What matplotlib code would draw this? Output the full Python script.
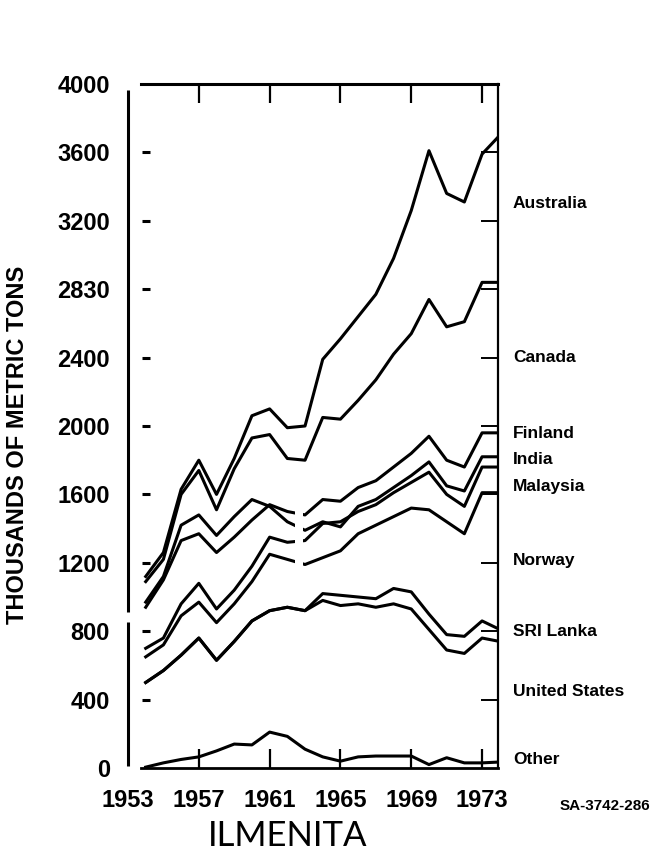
import numpy as np
import matplotlib
matplotlib.use("Agg")
from matplotlib import pyplot as plt

plt.rcParams['font.family'] = ['Liberation Sans', 'DejaVu Sans']
plt.rcParams['font.weight'] = 'bold'

YEARS = list(range(1954, 1975))

# upper edge of each band (stacked totals), thousands of metric tons
AUSTRALIA = [1120, 1260, 1630, 1800, 1600, 1810, 2060, 2100, 1990, 2000, 2390,
             2510, 2640, 2770, 2980, 3260, 3610, 3360, 3310, 3590, 3700]
CANADA = [1090, 1220, 1600, 1740, 1510, 1750, 1930, 1950, 1810, 1800, 2050,
          2040, 2150, 2270, 2420, 2540, 2740, 2580, 2610, 2840, 2840]
FINLAND = [940, 1100, 1330, 1370, 1260, 1350, 1450, 1540, 1500, 1480, 1570,
           1560, 1640, 1680, 1760, 1840, 1940, 1800, 1760, 1960, 1960]
INDIA = [970, 1120, 1420, 1480, 1360, 1470, 1570, 1530, 1440, 1390, 1440,
         1410, 1530, 1570, 1640, 1710, 1790, 1650, 1620, 1820, 1820]
MALAYSIA = [700, 760, 960, 1080, 930, 1040, 1180, 1350, 1320, 1330, 1430,
            1440, 1500, 1540, 1610, 1670, 1730, 1600, 1530, 1760, 1760]
NORWAY = [650, 720, 890, 970, 850, 960, 1090, 1250, 1220, 1190, 1230,
          1270, 1370, 1420, 1470, 1520, 1510, 1440, 1370, 1610, 1610]
SRI_LANKA = [500, 570, 660, 760, 630, 740, 860, 920, 940, 920, 1020,
             1010, 1000, 990, 1050, 1030, 900, 780, 770, 860, 810]
UNITED_STATES = [500, 570, 660, 760, 630, 740, 860, 920, 940, 920, 980,
                 950, 960, 940, 960, 930, 810, 690, 670, 760, 740]
OTHER = [5, 30, 50, 65, 100, 140, 135, 210, 185, 110, 65,
         40, 65, 70, 70, 70, 20, 60, 30, 30, 35]

SERIES = [AUSTRALIA, CANADA, FINLAND, INDIA, MALAYSIA, NORWAY,
          SRI_LANKA, UNITED_STATES, OTHER]
COUNTRIES = ['Australia', 'Canada', 'Finland', 'India', 'Malaysia', 'Norway',
             'SRI Lanka', 'United States', 'Other']

XTICKS = [1953, 1957, 1961, 1965, 1969, 1973]
YTICKS = [0, 400, 800, 1200, 1600, 2000, 2400, 2800, 3200, 3600, 4000]
YTICK_LABELS = ['0', '400', '800', '1200', '1600', '2000', '2400', '2830',
                '3200', '3600', '4000']

# layout (pixels of the 656x864 picture)
W, H = 656, 864
LABEL_X = 513
LABEL_Y = [203, 357, 433, 460, 486, 560, 632, 692, 760]

fig = plt.figure(figsize=(W / 100, H / 100), dpi=100)
ax = fig.add_axes([128 / W, (H - 768) / H, 370 / W, 684 / H])

for vals in SERIES:
    ax.plot(YEARS, vals, color='k', lw=2.2, solid_joinstyle='round', zorder=2)

# little break in the middle lines around 1962
ax.axvspan(1962.46, 1962.86, ymin=0.28, ymax=0.40, color='white', lw=0, zorder=3)

ax.set_xlim(1953.06, 1973.9)
ax.set_ylim(0, 4000)

ax.spines['top'].set_bounds(1953.73, 1973.9)
ax.spines['bottom'].set_bounds(1953.73, 1973.9)
ax.spines['top'].set_linewidth(2.2)
ax.spines['bottom'].set_linewidth(2.0)
ax.spines['right'].set_linewidth(1.6)
ax.spines['left'].set_visible(False)

# broken left axis
yt = ax.get_yaxis_transform()
ax.plot([0, 0], [912, 3965], color='k', lw=2.2, transform=yt, clip_on=False,
        solid_capstyle='butt')
ax.plot([0, 0], [10, 854], color='k', lw=2.2, transform=yt, clip_on=False,
        solid_capstyle='butt')
ax.plot(np.full(len(YTICKS) - 2, 18 / 370), YTICKS[1:-1], transform=yt,
        ls='none', marker='_', ms=6, mew=2.2, color='k', clip_on=False)

ax.set_xticks(XTICKS)
ax.set_xticklabels([str(x) for x in XTICKS])
ax.tick_params(axis='x', direction='in', length=14, width=1.6, top=True,
               bottom=True, labelsize=17, pad=15)
xt = ax.xaxis.get_major_ticks()
xt[0].tick1line.set_visible(False)
xt[0].tick2line.set_visible(False)

ax.set_yticks(YTICKS)
ax.set_yticklabels(YTICK_LABELS)
ax.tick_params(axis='y', direction='in', length=12, width=1.4, left=True,
               right=True, labelsize=17, pad=13)
ytk = ax.yaxis.get_major_ticks()
for t in ytk:
    t.tick1line.set_visible(False)
ytk[0].tick2line.set_visible(False)
ytk[-1].tick2line.set_visible(False)

for name, py in zip(COUNTRIES, LABEL_Y):
    fig.text(LABEL_X / W, 1 - py / H, name, ha='left', va='center', fontsize=12.5)

fig.text(18 / W, 1 - 445 / H, 'THOUSANDS OF METRIC TONS', rotation=90,
         ha='center', va='center', fontsize=17)
fig.text(288 / W, 1 - 836 / H, 'ILMENITA', ha='center', va='center',
         fontsize=25, fontweight='normal', family=['Lato', 'DejaVu Sans'])
fig.text(605 / W, 1 - 806 / H, 'SA-3742-286', ha='center', va='center',
         fontsize=11)

fig.savefig('out.png', dpi=100)
